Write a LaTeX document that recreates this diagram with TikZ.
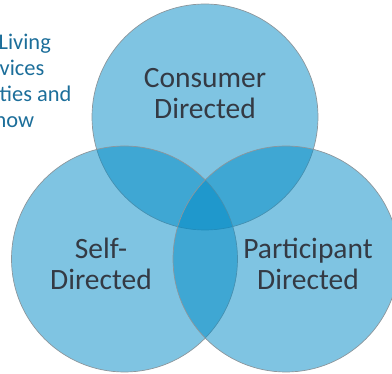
\documentclass[tikz,border=0pt]{standalone}
\usepackage{fontspec}
\setmainfont{Carlito}
\definecolor{venn}{RGB}{0,138,197}
\definecolor{rim}{RGB}{140,150,156}
\definecolor{lbl}{RGB}{52,58,68}
\definecolor{side}{RGB}{28,110,154}
\begin{document}
\begin{tikzpicture}[x=1pt,y=-1pt,
  venncircle/.style={circle, minimum size=226pt, inner sep=0pt, fill=venn, fill opacity=0.5, draw=rim, draw opacity=1, line width=0.7pt},
  vennlabel/.style={text=lbl, font=\fontsize{29.5}{31}\selectfont, align=center, anchor=base, inner sep=0pt},
  sidetext/.style={text=side, font=\fontsize{22.4}{26}\selectfont, anchor=base west, inner sep=0pt}]
\useasboundingbox (0,0) rectangle (392,374);
\clip (0,0) rectangle (392,374);
\node[venncircle] (top) at (205,117) {};
\node[venncircle] (left) at (124.5,259) {};
\node[venncircle] (right) at (286,259) {};
\node[vennlabel] (consumer) at (205,119) {Consumer\\Directed};
\node[vennlabel] (self) at (101,290) {Self-\\Directed};
\node[vennlabel] (participant) at (308,290) {Participant\\Directed};
\node[sidetext] (s1) at (-1.5,50) {Living};
\node[sidetext] (s2) at (-0.5,76) {vices};
\node[sidetext] (s3) at (-0.5,102) {ties and};
\node[sidetext] (s4) at (-5.5,128) {how};
\end{tikzpicture}
\end{document}
